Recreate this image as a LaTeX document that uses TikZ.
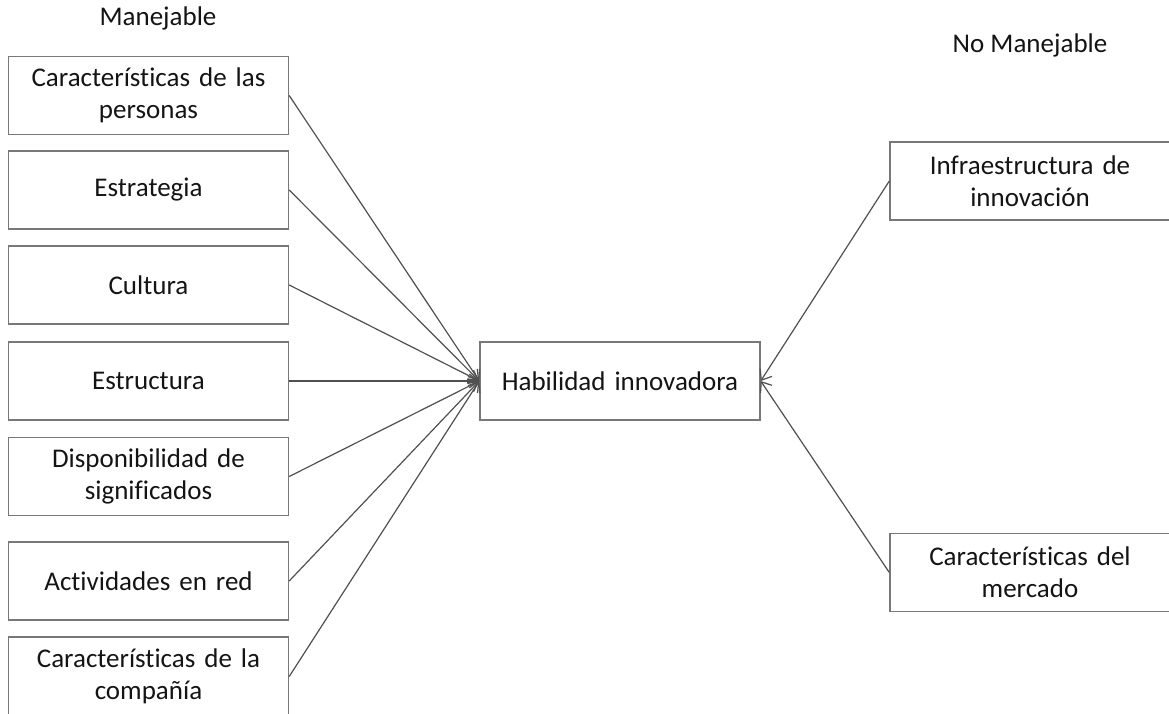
\documentclass[tikz,border=0pt]{standalone}
\usepackage{fontspec}
\setmainfont{Carlito}[Ligatures=NoCommon,RawFeature={-liga;-calt}]
\usetikzlibrary{arrows.meta}
\definecolor{boxline}{RGB}{120,120,120}
\definecolor{linkline}{RGB}{80,80,80}
\definecolor{txt}{RGB}{20,20,20}
\tikzset{
  factor/.style={draw=boxline, line width=1.4pt, rectangle, minimum width=280pt,
    minimum height=78pt, inner sep=0pt, align=center, text width=270pt,
    font=\fontsize{27}{32}\selectfont, text=txt},
  heading/.style={font=\fontsize{27}{32}\selectfont, text=txt, inner sep=0pt},
  link/.style={draw=linkline, line width=1.2pt,
    -{Straight Barb[length=9pt,width=14pt,line width=1.2pt]}}
}
\begin{document}
\begin{tikzpicture}[x=1pt,y=-1pt]
\useasboundingbox (0,0) rectangle (1169,714);

% column headings
\node[heading] (manejable) at (158,18) {Manejable};
\node[heading] (nomanejable) at (1030,45) {No Manejable};

% manageable factors (left column)
\node[factor] (personas) at (148.5,95.5) {Características de las\\personas};
\node[factor] (estrategia) at (148.5,190) {Estrategia};
\node[factor] (cultura) at (148.5,285) {Cultura};
\node[factor] (estructura) at (148.5,381) {Estructura};
\node[factor] (significados) at (148.5,476.5) {Disponibilidad de\\significados};
\node[factor] (red) at (148.5,581) {Actividades en red};
\node[factor, minimum height=79pt] (compania) at (148.5,676.5) {Características de la\\compañía};

% central outcome
\node[factor] (habilidad) at (620,381) {Habilidad innovadora};

% non-manageable factors (right column)
\node[factor] (infra) at (1030,181) {Infraestructura de\\innovación};
\node[factor] (mercado) at (1030,572.5) {Características del\\mercado};

% influences
\foreach \src in {personas,estrategia,cultura,estructura,significados,red,compania}
  \draw[link] (\src.east) -- (habilidad.west);
\draw[link] (infra.west) -- (habilidad.east);
\draw[link] (mercado.west) -- (habilidad.east);
\end{tikzpicture}
\end{document}
